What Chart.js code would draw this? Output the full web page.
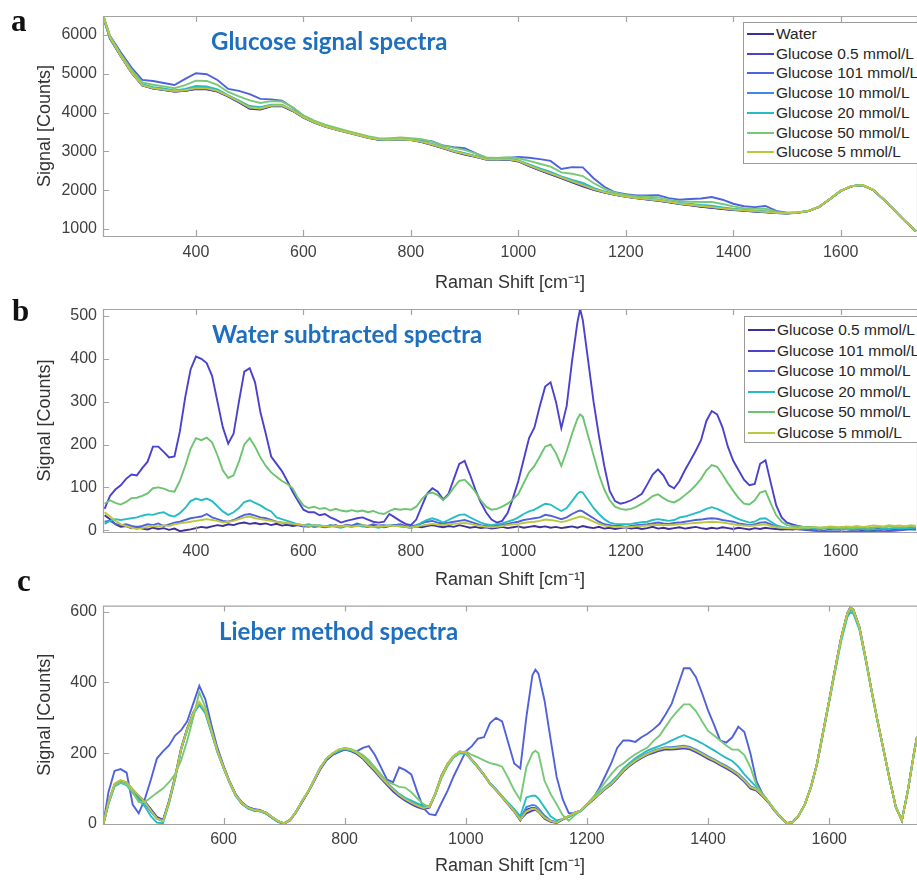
<!DOCTYPE html>
<html>
<head>
<meta charset="utf-8">
<script src="https://cdn.jsdelivr.net/npm/chart.js@4.4.0/dist/chart.umd.min.js"></script>
<style>
  body { margin:0; background:#fff; width:917px; height:880px; overflow:hidden; position:relative; font-family:"Liberation Sans", Arial, sans-serif; }
  canvas { position:absolute; left:0; }
  .letter { position:absolute; font:bold 31px "Liberation Serif", serif; color:#111; line-height:1; }
  .ptitle { position:absolute; font:bold 24px Lato, sans-serif; color:#1f6fbf; white-space:nowrap; line-height:1; }
  .legend { position:absolute; border:1px solid #9a9a9a; background:#fff; width:200px; }
  .legend .row { position:absolute; left:0; height:20px; font-size:15.5px; line-height:20px; color:#262626; white-space:nowrap; padding-left:32px; }
  .legend .row span { position:absolute; left:3px; top:9px; width:27px; height:2px; }
</style>
</head>
<body>
<canvas id="chartA" width="917" height="296" style="top:0"></canvas>
<canvas id="chartB" width="917" height="305" style="top:290px"></canvas>
<canvas id="chartC" width="917" height="290" style="top:590px"></canvas>

<div class="letter" style="left:11px;top:5px">a</div>
<div class="letter" style="left:12px;top:295px">b</div>
<div class="letter" style="left:17px;top:565px">c</div>

<div class="ptitle" style="left:211px;top:29px">Glucose signal spectra</div>
<div class="ptitle" style="left:212px;top:322px">Water subtracted spectra</div>
<div class="ptitle" style="left:219px;top:619px">Lieber method spectra</div>

<div class="legend" id="legendA" style="left:743px;top:22px;height:140px"></div>
<div class="legend" id="legendB" style="left:744px;top:316px;height:125px"></div>

<script>
/* ---------- Panel a: raw spectra ---------- */
const shiftA = [228,240,260,280,
  300,320,340,360,380, 400,420,440,460,480, 500,520,540,560,580, 600,620,640,660,680,
  700,720,740,760,780, 800,820,840,860,880, 900,920,940,960,980, 1000,1020,1040,1060,1080,
  1100,1120,1140,1160,1180, 1200,1220,1240,1260,1280, 1300,1320,1340,1360,1380,
  1400,1420,1440,1460,1480, 1500,1520,1540,1560,1580, 1600,1620,1640,1660,1680,
  1700,1720,1740];

const waterA = [6430,5900,5450,5030,
  4700,4620,4580,4540,4560, 4610,4600,4540,4410,4260, 4100,4080,4160,4170,4040,
  3870,3740,3640,3560,3490, 3420,3350,3300,3290,3310, 3290,3240,3160,3080,2990,
  2920,2860,2790,2780,2790, 2740,2620,2510,2410,2310, 2200,2100,2010,1940,1880,
  1830,1790,1760,1730,1690, 1640,1610,1575,1545,1515, 1490,1470,1450,1430,1410,
  1400,1420,1460,1570,1770, 1980,2100,2130,2010,1760, 1480,1200,940];
const g05A = [6462,5924,5458,5035,
  4704,4626,4585,4544,4560, 4615,4606,4552,4424,4276, 4115,4094,4172,4181,4050,
  3879,3748,3647,3568,3499, 3433,3358,3307,3299,3319, 3296,3247,3170,3088,2999,
  2929,2868,2797,2785,2795, 2749,2628,2517,2416,2315, 2209,2110,2015,1944,1883,
  1837,1796,1763,1733,1693, 1647,1616,1580,1549,1522, 1493,1474,1453,1436,1414,
  1403,1422,1462,1572,1772, 1982,2102,2132,2012,1762, 1483,1203,943];
const g101A = [6475,5980,5555,5160,
  4845,4815,4763,4712,4870, 5015,4990,4840,4612,4560, 4478,4355,4340,4310,4130,
  3918,3782,3678,3585,3512, 3448,3375,3318,3328,3332, 3302,3295,3258,3152,3110,
  3082,2955,2832,2798,2830, 2855,2835,2800,2755,2548, 2595,2590,2310,2090,1948,
  1895,1865,1865,1872,1795, 1755,1772,1785,1823,1755, 1652,1588,1565,1593,1468,
  1418,1430,1468,1575,1775, 1982,2101,2130,2011,1762, 1483,1205,947];
const g10A = [6450,5922,5462,5040,
  4710,4632,4590,4558,4584, 4640,4638,4566,4430,4290, 4138,4110,4184,4188,4054,
  3880,3752,3648,3570,3503, 3436,3360,3311,3300,3324, 3299,3256,3182,3096,3010,
  2944,2876,2800,2791,2805, 2760,2646,2540,2444,2336, 2238,2144,2038,1954,1890,
  1838,1802,1774,1748,1705, 1658,1632,1600,1573,1539, 1510,1484,1464,1449,1418,
  1404,1423,1463,1572,1772, 1982,2102,2132,2012,1762, 1483,1203,943];
const g20A = [6445,5922,5474,5058,
  4734,4656,4622,4572,4612, 4684,4674,4596,4446,4312, 4170,4138,4204,4204,4062,
  3882,3750,3649,3568,3500, 3432,3360,3306,3302,3321, 3296,3258,3188,3098,3020,
  2957,2884,2804,2794,2810, 2770,2664,2565,2470,2355, 2268,2188,2062,1966,1895,
  1844,1807,1780,1756,1712, 1670,1646,1619,1599,1559, 1522,1492,1470,1458,1422,
  1405,1424,1464,1573,1773, 1983,2103,2133,2013,1763, 1484,1204,944];
const g50A = [6492,5970,5510,5105,
  4780,4718,4677,4630,4710, 4825,4816,4715,4532,4420, 4315,4250,4295,4285,4138,
  3928,3795,3692,3610,3534, 3464,3392,3340,3335,3358, 3338,3312,3248,3150,3090,
  3038,2950,2845,2830,2852, 2825,2755,2682,2610,2460, 2425,2365,2185,2035,1935,
  1878,1845,1830,1814,1758, 1712,1702,1695,1697,1645, 1582,1532,1520,1522,1445,
  1412,1429,1468,1576,1775, 1985,2106,2137,2016,1767, 1488,1209,948];
const g5A = [6472,5932,5464,5036,
  4705,4630,4592,4554,4578, 4632,4626,4562,4430,4286, 4132,4106,4182,4188,4055,
  3882,3752,3649,3570,3501, 3430,3359,3310,3301,3319, 3296,3251,3175,3092,3005,
  2937,2872,2798,2788,2802, 2755,2639,2532,2434,2329, 2226,2131,2030,1951,1888,
  1837,1799,1771,1743,1702, 1654,1626,1593,1565,1533, 1504,1481,1461,1444,1417,
  1405,1424,1465,1574,1774, 1984,2104,2134,2014,1764, 1485,1205,945];

/* ---------- Panel b: water subtracted ---------- */
const shiftB = [230,240,250,260,270,280,290,
  300,310,320,330,340,350,360,370,380,390,
  400,410,420,430,440,450,460,470,480,490,
  500,510,520,530,540,550,560,570,580,590,
  600,610,620,630,640,650,660,670,680,690,
  700,710,720,730,740,750,760,770,780,790,
  800,810,820,830,840,850,860,870,880,890,
  900,910,920,930,940,950,960,970,980,990,
  1000,1010,1020,1030,1040,1050,1060,1070,1080,1090,
  1100,1110,1115,1120,1130,1140,1150,1160,1170,1180,1190,
  1200,1210,1220,1230,1240,1250,1260,1270,1280,1290,
  1300,1310,1320,1330,1340,1350,1360,1370,1380,1390,
  1400,1410,1420,1430,1440,1450,1460,1470,1480,1490,
  1500,1510,1520,1530,1540,1550,1560,1570,1580,1590,
  1600,1610,1620,1630,1640,1650,1660,1670,1680,1690,
  1700,1710,1720,1730,1740];

const g05B = [35,26,14,8,10,5,8,
  4,2,6,3,5,1,4,-2,0,2,
  5,8,6,9,12,10,14,12,16,18,
  15,17,14,16,12,15,11,13,10,12,
  9,11,8,10,7,9,12,8,11,9,
  13,10,8,11,9,7,10,12,9,8,
  6,9,7,10,12,9,7,10,8,12,
  9,6,8,5,7,4,6,8,5,7,
  9,6,8,10,7,9,6,8,5,7,
  9,6,8,10,7,5,8,4,6,3,5,
  7,4,6,3,5,8,4,6,3,5,
  7,4,6,8,5,3,6,4,7,5,
  3,6,4,2,5,3,6,4,3,2,
  3,2,4,3,2,4,3,5,2,4,
  3,5,2,4,3,2,4,3,5,3,
  4,3,5,4,3];
const g101B = [50,80,95,105,120,130,128,
  145,160,195,195,183,170,172,230,310,375,
  405,400,390,360,300,240,202,225,300,370,
  378,345,275,225,172,155,138,115,90,68,
  48,42,42,35,38,30,25,18,22,25,
  28,30,25,20,18,20,38,30,22,15,
  12,25,55,85,98,90,72,85,120,155,
  162,130,95,65,42,25,18,22,40,75,
  115,165,215,240,290,335,345,300,238,290,
  395,485,516,490,395,300,220,150,92,68,62,
  65,70,77,85,107,130,142,128,105,98,
  115,140,162,185,210,255,278,270,240,195,
  162,140,118,105,108,155,163,110,58,30,
  18,14,10,8,8,6,5,6,5,4,
  2,3,1,2,0,-2,1,-1,2,0,
  3,4,5,6,7];
const g10B = [20,22,15,12,14,10,8,
  10,14,12,16,10,14,18,20,24,28,
  30,32,38,30,26,22,20,24,30,36,
  38,34,30,28,24,20,18,16,14,12,
  10,8,12,10,8,12,10,9,13,11,
  16,12,10,14,11,12,10,12,14,10,
  9,12,16,20,22,18,16,18,20,22,
  24,20,16,12,10,9,11,13,15,18,
  20,24,26,28,30,36,34,30,26,30,
  38,44,46,44,36,28,20,14,12,10,10,
  8,10,12,13,14,16,18,16,15,17,
  18,20,22,24,25,27,28,27,24,22,
  20,16,14,12,14,18,19,14,8,6,
  4,3,2,1,0,-1,-2,-1,-3,-2,
  -3,-4,-2,-3,-4,-2,-3,-5,-3,-2,
  -1,0,1,2,1];
const g20B = [15,22,26,24,26,28,30,
  34,37,36,40,42,35,32,40,52,68,
  74,70,74,68,56,44,36,42,52,66,
  70,64,58,50,44,30,26,22,18,14,
  12,14,10,12,9,11,8,6,10,8,
  12,9,10,8,6,9,12,10,11,8,
  6,10,18,24,28,24,18,24,30,36,
  37,30,24,18,14,12,14,16,20,24,
  30,38,44,48,55,62,60,52,45,52,
  68,85,90,88,70,52,38,26,18,15,14,
  14,15,17,19,20,24,26,24,22,24,
  30,32,36,40,44,50,54,50,44,38,
  32,26,22,18,20,27,28,20,12,8,
  6,5,5,4,5,4,3,5,4,3,
  4,3,2,4,3,1,3,2,4,3,
  5,4,6,5,6];
const g50B = [62,70,64,60,66,75,76,
  80,86,98,100,97,92,90,115,150,190,
  215,210,216,205,175,140,122,128,160,200,
  215,195,170,150,135,125,115,108,98,75,
  58,52,55,50,52,46,50,46,44,47,
  44,46,42,45,40,38,45,50,48,50,
  48,55,72,85,88,82,70,82,100,115,
  118,105,90,70,55,48,50,55,62,72,
  85,110,135,150,172,195,200,180,150,185,
  225,260,270,265,220,175,130,95,70,55,50,
  48,50,55,62,70,80,84,75,68,65,
  72,82,92,105,120,140,152,148,130,110,
  92,75,62,60,70,88,92,62,35,20,
  12,10,9,8,8,7,6,6,5,6,
  5,4,6,5,7,5,6,8,7,9,
  8,7,9,10,8];
const g5B = [42,32,22,14,10,6,3,
  5,8,10,9,12,10,14,16,18,20,
  22,24,26,24,22,18,20,22,26,30,
  32,28,26,24,22,20,18,17,15,14,
  12,10,12,10,9,8,10,9,11,8,
  10,12,9,8,10,9,11,10,9,8,
  6,9,11,13,15,13,12,14,15,16,
  17,15,12,10,8,7,8,10,12,14,
  15,17,19,20,22,25,24,22,19,22,
  26,30,32,31,26,20,15,11,9,8,8,
  7,8,9,10,11,12,13,12,12,13,
  14,15,16,17,18,19,20,19,18,16,
  14,12,11,10,11,13,14,10,7,6,
  5,6,4,7,5,8,6,7,9,8,
  7,9,8,10,8,9,11,10,9,12,
  10,11,9,12,10];

/* ---------- Panel c: Lieber baseline corrected ---------- */
const shiftC = [402,410,420,430,440,450,460,470,480,490,
  500,510,520,530,540,550,560,570,580,590,
  600,610,620,630,640,650,660,670,680,690,
  700,710,720,730,740,750,760,770,780,790,
  800,810,820,830,840,850,860,870,880,890,
  900,910,920,930,940,950,960,970,980,990,
  1000,1010,1020,1030,1040,1050,1060,1070,1080,1090,
  1100,1110,1115,1120,1130,1140,1150,1160,1170,1180,1190,
  1200,1210,1220,1230,1240,1250,1260,1270,1280,1290,
  1300,1310,1320,1330,1340,1350,1360,1370,1380,1390,
  1400,1410,1420,1430,1440,1450,1460,1470,1480,1490,
  1500,1510,1520,1530,1540,1550,1560,1570,1580,1590,
  1600,1610,1620,1630,1635,1640,1650,1660,1670,1680,1690,
  1700,1710,1720,1730,1740,1745];

const waterC = [2,60,110,120,115,95,78,62,40,18,
  10,65,135,215,270,315,342,318,262,205,
  160,118,82,60,46,40,38,32,20,8,
  2,12,35,65,92,125,158,183,197,205,
  212,208,200,186,168,150,130,112,95,80,
  68,58,50,44,48,88,138,170,192,203,
  200,180,160,138,113,95,75,55,35,10,
  40,46,44,36,18,8,4,14,22,32,38,
  55,70,85,100,113,130,150,165,178,188,
  197,204,210,214,213,215,217,214,206,197,
  187,179,169,160,150,138,122,103,96,80,
  61,38,19,2,5,25,56,105,171,260,
  349,440,528,595,612,605,556,470,377,290,208,
  125,48,10,95,200,246];
const g05C = [2,62,112,122,118,98,80,64,42,20,
  12,62,130,210,268,312,340,320,265,208,
  162,120,84,62,48,42,40,30,18,6,
  1,10,33,62,90,122,155,180,195,203,
  210,206,198,185,166,148,128,110,92,78,
  66,56,48,42,46,85,135,168,190,205,
  202,182,162,140,115,97,77,57,37,12,
  30,38,40,34,15,6,3,12,20,30,36,
  53,68,83,98,111,128,148,163,176,186,
  195,201,207,211,210,212,214,211,203,194,
  184,176,166,157,147,135,119,100,94,78,
  60,37,18,2,5,25,56,105,171,260,
  349,440,528,595,612,605,556,470,377,290,208,
  125,48,10,95,200,246];
const g101C = [5,90,150,155,145,55,30,70,125,185,
  205,222,250,265,290,340,390,352,280,215,
  165,120,84,60,46,42,38,32,20,8,
  2,12,35,65,92,125,158,185,197,205,
  212,208,205,215,220,195,160,125,118,160,
  152,140,90,45,28,25,60,94,135,170,
  205,220,241,245,285,300,290,230,171,157,
  302,420,436,425,349,240,133,70,31,30,38,
  56,72,100,135,171,215,236,236,232,245,
  255,268,283,310,340,390,440,440,415,370,
  321,280,236,230,245,275,260,199,120,85,
  62,39,19,2,5,25,56,105,171,260,
  349,440,528,595,612,605,556,470,377,290,208,
  125,48,10,95,200,246];
const g10C = [2,58,108,118,112,92,74,58,35,15,
  8,60,128,212,268,314,340,316,260,204,
  158,116,80,58,44,38,36,30,18,6,
  1,12,36,66,92,126,160,184,198,206,
  214,210,202,190,172,154,134,116,100,84,
  72,62,54,46,50,86,134,166,190,202,
  200,182,162,140,116,98,78,58,38,14,
  48,54,52,44,24,10,5,14,22,32,38,
  56,71,86,101,115,132,152,168,181,191,
  200,207,213,217,217,219,221,218,210,201,
  191,183,173,164,154,142,126,107,98,82,
  62,39,19,2,5,25,56,105,171,260,
  348,438,526,592,606,600,552,468,376,289,208,
  125,48,10,95,200,246];
const g20C = [2,56,106,116,110,88,68,50,22,4,
  2,58,128,210,265,310,336,312,258,202,
  158,116,80,58,44,38,36,30,18,6,
  2,12,35,66,93,126,160,184,198,206,
  212,208,201,188,171,153,134,116,100,85,
  74,66,58,50,52,86,132,165,188,200,
  198,180,160,138,115,97,78,60,42,22,
  75,80,80,72,47,22,10,14,20,30,36,
  55,72,88,104,118,136,156,172,186,197,
  207,214,221,228,236,244,251,244,237,228,
  218,208,197,187,178,162,140,122,104,84,
  63,40,20,3,5,25,56,104,169,256,
  344,432,518,585,598,594,548,464,374,288,206,
  124,48,10,95,200,246];
const g50C = [3,60,108,118,112,90,62,62,75,88,
  100,118,140,180,235,300,372,330,265,205,
  160,118,82,60,46,40,38,32,20,8,
  2,12,35,65,92,125,158,185,200,210,
  215,212,205,195,180,160,140,120,113,105,
  103,90,72,56,48,85,130,165,190,202,
  205,195,188,180,172,168,162,130,95,68,
  160,200,207,200,122,85,56,25,9,25,38,
  56,75,95,118,140,160,171,185,197,207,
  216,235,250,275,300,320,338,338,319,290,
  263,250,236,222,210,210,195,160,110,82,
  62,39,19,2,5,25,56,105,171,260,
  348,438,526,593,608,602,554,469,377,290,208,
  125,48,10,95,200,246];
const g5C = [2,62,114,124,118,98,80,62,38,16,
  8,62,132,212,268,314,345,320,264,206,
  160,118,82,60,46,40,37,32,20,8,
  2,12,36,66,93,126,160,185,200,210,
  214,210,202,188,170,152,132,114,97,82,
  70,60,52,45,49,88,137,170,193,204,
  201,181,161,139,114,96,76,56,36,12,
  36,44,42,36,18,8,4,14,22,32,38,
  55,70,85,100,113,131,151,166,179,189,
  198,205,211,215,214,216,218,215,207,198,
  188,180,170,161,151,139,123,104,97,81,
  62,39,19,2,5,25,56,105,171,260,
  349,440,528,595,612,605,556,470,377,290,208,
  125,48,10,95,200,246];

/* ---------- Labels, ticks, colours ---------- */
const namesA = ['Water','Glucose 0.5 mmol/L','Glucose 101 mmol/L','Glucose 10 mmol/L','Glucose 20 mmol/L','Glucose 50 mmol/L','Glucose 5 mmol/L'];
const namesB = namesA.slice(1);
const colorsA = ['#3d2f99','#4a42cc','#4f62dc','#3f88e8','#25bcc4','#78c878','#bcc63e'];
const colorsB = ['#3d2f99','#4a42cc','#4f62dc','#25bcc4','#6cc470','#bcc63e'];

const xTicksAB = [400,600,800,1000,1200,1400,1600];
const xTicksC = [600,800,1000,1200,1400,1600];
const yTicksA = [1000,2000,3000,4000,5000,6000];
const yTicksB = [0,100,200,300,400,500];
const yTicksC = [0,200,400,600];

const FONT = '"Liberation Sans", Arial, sans-serif';

function checkLengths(name, xs, list){
  list.forEach((ys, i) => {
    if (ys.length !== xs.length) throw new Error(`${name}[${i}] has ${ys.length} values, expected ${xs.length}`);
  });
}

// box around the plot with inward tick marks, MATLAB style
const framePlugin = {
  id: 'frame',
  afterDatasetsDraw(chart){
    const { ctx, chartArea: a, scales: { x, y } } = chart;
    const t = 6;
    ctx.save();
    ctx.strokeStyle = '#a3a3a3';
    ctx.lineWidth = 1.2;
    ctx.beginPath();
    ctx.rect(a.left + 0.5, a.top + 0.5, a.right - a.left, a.bottom - a.top);
    x.ticks.forEach(tk => {
      const px = Math.round(x.getPixelForValue(tk.value)) + 0.5;
      ctx.moveTo(px, a.bottom); ctx.lineTo(px, a.bottom - t);
      ctx.moveTo(px, a.top); ctx.lineTo(px, a.top + t);
    });
    y.ticks.forEach(tk => {
      const py = Math.round(y.getPixelForValue(tk.value)) + 0.5;
      ctx.moveTo(a.left, py); ctx.lineTo(a.left + t, py);
    });
    ctx.stroke();
    ctx.restore();
  }
};

function makeChart(id, cfg){
  checkLengths(id, cfg.xs, cfg.series);
  const n = cfg.series.length;
  const datasets = cfg.series.map((ys, i) => ({
    label: cfg.names[i],
    data: cfg.xs.map((x, k) => ({ x, y: ys[k] })),
    borderColor: cfg.colors[i],
    borderWidth: 1.9,
    pointRadius: 0,
    tension: 0,
    fill: false,
    order: n - i   // later series drawn on top
  }));
  const tickFont = { family: FONT, size: 16 };
  const titleFont = { family: FONT, size: 18 };
  return new Chart(document.getElementById(id), {
    type: 'line',
    data: { datasets },
    options: {
      responsive: false,
      animation: false,
      devicePixelRatio: 1,
      layout: { padding: { top: cfg.padTop, left: 0, right: 0, bottom: 0 } },
      plugins: { legend: { display: false }, tooltip: { enabled: false } },
      scales: {
        x: {
          type: 'linear', min: cfg.xMin, max: cfg.xMax,
          grid: { display: false, drawTicks: false },
          border: { display: false },
          afterBuildTicks: s => { s.ticks = cfg.xTicks.map(v => ({ value: v })); },
          afterFit: s => { s.height = cfg.xHeight; },
          ticks: { font: tickFont, color: '#404040', padding: cfg.xTickPad, maxRotation: 0, autoSkip: false, callback: v => String(v) },
          title: { display: true, text: 'Raman Shift [cm⁻¹]', font: titleFont, color: '#333', padding: { top: 0, bottom: cfg.xTitlePad } }
        },
        y: {
          type: 'linear', min: cfg.yMin, max: cfg.yMax,
          grid: { display: false, drawTicks: false },
          border: { display: false },
          afterBuildTicks: s => { s.ticks = cfg.yTicks.map(v => ({ value: v })); },
          afterFit: s => { s.width = 103; },
          ticks: { font: tickFont, color: '#404040', padding: 6, autoSkip: false, callback: v => String(v) },
          title: { display: true, text: 'Signal [Counts]', font: titleFont, color: '#333', padding: { top: 34, bottom: 0 } }
        }
      }
    },
    plugins: [framePlugin]
  });
}

function buildLegend(id, names, colors, firstRow, step){
  const box = document.getElementById(id);
  names.forEach((name, i) => {
    const row = document.createElement('div');
    row.className = 'row';
    row.style.top = (firstRow + i * step - 10) + 'px';
    row.innerHTML = `<span style="background:${colors[i]}"></span>${name}`;
    box.appendChild(row);
  });
}

makeChart('chartA', {
  xs: shiftA, series: [waterA, g05A, g101A, g10A, g20A, g50A, g5A],
  names: namesA, colors: colorsA,
  xMin: 227, xMax: 1742, yMin: 820, yMax: 6490,
  xTicks: xTicksAB, yTicks: yTicksA,
  padTop: 16, xHeight: 60, xTickPad: 7, xTitlePad: 2
});
makeChart('chartB', {
  xs: shiftB, series: [g05B, g101B, g10B, g20B, g50B, g5B],
  names: namesB, colors: colorsB,
  xMin: 227, xMax: 1742, yMin: -4, yMax: 516,
  xTicks: xTicksAB, yTicks: yTicksB,
  padTop: 19, xHeight: 63, xTickPad: 10, xTitlePad: 4
});
makeChart('chartC', {
  xs: shiftC, series: [waterC, g05C, g101C, g10C, g20C, g50C, g5C],
  names: namesA, colors: colorsA,
  xMin: 401, xMax: 1745, yMin: 0, yMax: 617,
  xTicks: xTicksC, yTicks: yTicksC,
  padTop: 15, xHeight: 56, xTickPad: 6, xTitlePad: 3
});

buildLegend('legendA', namesA, colorsA, 11, 19.7);
buildLegend('legendB', namesB, colorsB, 13, 20.6);
</script>
</body>
</html>
